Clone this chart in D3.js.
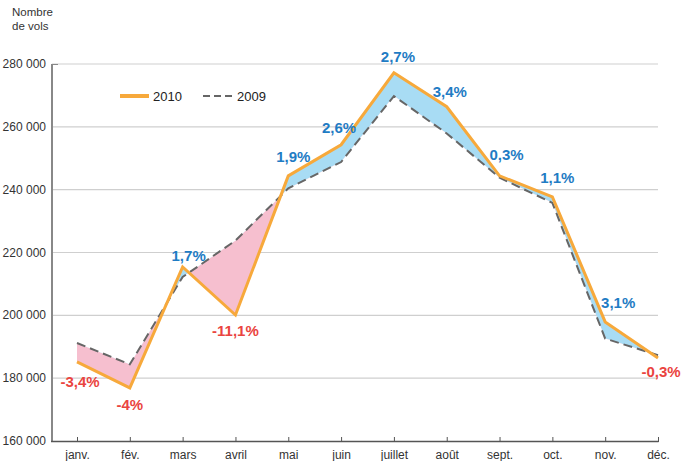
<!DOCTYPE html>
<html>
<head>
<meta charset="utf-8">
<script src="https://cdn.jsdelivr.net/npm/d3@7"></script>
<style>
  body { margin: 0; background: #fff; }
  svg { font-family: "Liberation Sans", Arial, sans-serif; }
</style>
</head>
<body>
<div class="container"></div>
<script>
let months = ['janv.', 'fév.', 'mars', 'avril', 'mai', 'juin', 'juillet', 'août', 'sept.', 'oct.', 'nov.', 'déc.'];
let vols2010 = [185200, 176900, 215400, 200100, 244400, 254300, 277200, 266400, 244400, 237700, 197900, 186400];
let vols2009 = [191200, 184400, 212200, 223800, 240400, 248800, 269800, 257900, 243800, 235800, 192600, 187300];
let variations = ['-3,4%', '-4%', '1,7%', '-11,1%', '1,9%', '2,6%', '2,7%', '3,4%', '0,3%', '1,1%', '3,1%', '-0,3%'];
let yTicks = [160000, 180000, 200000, 220000, 240000, 260000, 280000];

// label offsets from the 2010 point (dx, dy)
let labelOffsets = [[3, 25], [0, 22], [6, -6], [0, 21], [5, -14], [-2, -12], [4, -11], [3, -10], [7, -16], [5, -14], [13, -14], [3, 19]];

let width = 684, height = 461;
let svg = d3.select('.container')
  .append('svg')
  .attr('width', width)
  .attr('height', height);

let x = d3.scalePoint().domain(months).range([77, 658]);
let y = d3.scaleLinear().domain([160000, 280000]).range([441, 64]);

let data = months.map((m, i) => ({ m: m, a: vols2010[i], b: vols2009[i], label: variations[i], off: labelOffsets[i] }));

// grid
svg.append('g')
  .selectAll('line')
  .data(yTicks.slice(1))
  .enter()
  .append('line')
  .attr('x1', 52).attr('x2', 658)
  .attr('y1', d => y(d)).attr('y2', d => y(d))
  .attr('stroke', '#cfcfcf')
  .attr('stroke-width', 1.2);

// y labels
svg.append('g')
  .selectAll('text')
  .data(yTicks)
  .enter()
  .append('text')
  .attr('x', 46)
  .attr('y', d => y(d) + 4)
  .attr('text-anchor', 'end')
  .style('font-size', '12px')
  .style('fill', '#333')
  .text(d => d3.format(',')(d).replace(',', '\u00a0'));

svg.append('text').attr('x', 12).attr('y', 16).style('font-size', '11.5px').style('fill', '#333').text('Nombre');
svg.append('text').attr('x', 12).attr('y', 30).style('font-size', '11.5px').style('fill', '#333').text('de vols');

// clip regions above / below the 2009 line
let defs = svg.append('defs');
defs.append('clipPath').attr('id', 'above')
  .append('path')
  .attr('d', d3.area().x(d => x(d.m)).y0(0).y1(d => y(d.b))(data));
defs.append('clipPath').attr('id', 'below')
  .append('path')
  .attr('d', d3.area().x(d => x(d.m)).y0(height).y1(d => y(d.b))(data));

let band = d3.area().x(d => x(d.m)).y0(d => y(d.b)).y1(d => y(d.a));
svg.append('path').attr('d', band(data)).attr('fill', '#a8dcf4').attr('clip-path', 'url(#above)');
svg.append('path').attr('d', band(data)).attr('fill', '#f6bfcf').attr('clip-path', 'url(#below)');

// 2009 dashed
svg.append('path')
  .attr('d', d3.line().x(d => x(d.m)).y(d => y(d.b))(data))
  .attr('fill', 'none')
  .attr('stroke', '#666')
  .attr('stroke-width', 2)
  .attr('stroke-dasharray', '9,5');

// 2010 line
svg.append('path')
  .attr('d', d3.line().x(d => x(d.m)).y(d => y(d.a))(data))
  .attr('fill', 'none')
  .attr('stroke', '#f7a93b')
  .attr('stroke-width', 3)
  .attr('stroke-linejoin', 'miter');

// axes
svg.append('line').attr('x1', 52).attr('x2', 52).attr('y1', 64).attr('y2', 442).attr('stroke', '#888').attr('stroke-width', 2);
svg.append('line').attr('x1', 52).attr('x2', 58).attr('y1', 64.5).attr('y2', 64.5).attr('stroke', '#888').attr('stroke-width', 1);

let xAxis = d3.axisBottom(x).tickSize(5).tickSizeOuter(0);
let gx = svg.append('g')
  .attr('transform', 'translate(0, 441)')
  .call(xAxis);
gx.select('.domain').attr('d', 'M51,0.5H658.5').attr('stroke', '#555').attr('stroke-width', 1.5);
gx.selectAll('.tick line').attr('stroke', '#555').attr('y1', 0).attr('y2', -5).attr('transform', 'translate(0,1)');
gx.selectAll('.tick text')
  .attr('y', 9)
  .style('font-size', '12px')
  .style('fill', '#333')
  .style('font-family', '"Liberation Sans", Arial, sans-serif');

// variation labels
svg.append('g')
  .selectAll('text')
  .data(data)
  .enter()
  .append('text')
  .attr('x', d => x(d.m) + d.off[0])
  .attr('y', d => y(d.a) + d.off[1])
  .attr('text-anchor', 'middle')
  .style('font-size', '15px')
  .style('font-weight', 'bold')
  .style('fill', d => d.label[0] === '-' ? '#ea4440' : '#1f7cc4')
  .text(d => d.label);

// legend
let legend = svg.append('g');
legend.append('line').attr('x1', 120).attr('x2', 149).attr('y1', 96).attr('y2', 96).attr('stroke', '#f7a93b').attr('stroke-width', 4);
legend.append('text').attr('x', 153).attr('y', 101).style('font-size', '13px').style('fill', '#222').text('2010');
legend.append('line').attr('x1', 203).attr('x2', 234).attr('y1', 96).attr('y2', 96).attr('stroke', '#666').attr('stroke-width', 2).attr('stroke-dasharray', '7,4');
legend.append('text').attr('x', 237).attr('y', 101).style('font-size', '13px').style('fill', '#222').text('2009');
</script>
</body>
</html>
